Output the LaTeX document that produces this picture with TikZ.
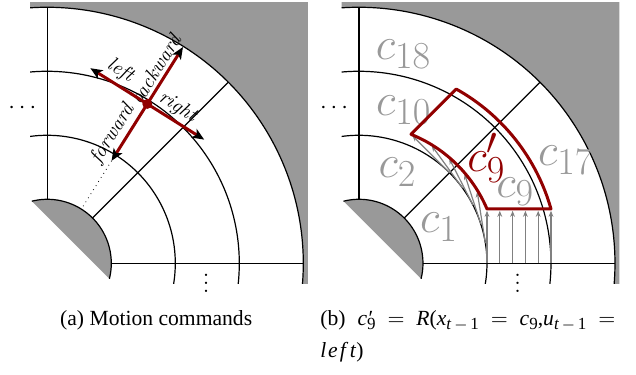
\documentclass[tikz,border=0pt]{standalone}
\usepackage{fontspec}
\newfontfamily\capfont{Liberation Serif}
\usetikzlibrary{arrows.meta}

\definecolor{cmdred}{RGB}{145,0,0}
\definecolor{cellgray}{gray}{0.6}

\newcommand\capsub[1]{\raisebox{-0.45ex}{\fontsize{8.5}{9}\selectfont#1}}
\newcommand\capss[1]{\rlap{\kern0.8pt′}\capsub{#1}}
\newcommand\capgap{\hspace{1.5pt plus 1fil}}

\tikzset{
  gridline/.style={line width=0.6pt},
  blocked/.style={fill=cellgray},
  cmdarrow/.style={cmdred,line width=1.5pt,-{Stealth[length=6pt,width=5pt,inset=1.5pt,black]}},
  cmdlabel/.style={text=black,font=\itshape,sloped,above,inner sep=1.5pt},
  celllabel/.style={text=cellgray,font=\Huge,scale=0.92,transform shape},
  shifted/.style={gray,line width=0.6pt,-{Stealth[length=3pt,width=2.4pt]}},
  caption/.style={font=\capfont\fontsize{10.8}{13}\selectfont,anchor=base west,inner sep=0pt}
}

\begin{document}
\begin{tikzpicture}[x=32pt,y=32pt]
  \useasboundingbox (0,0) rectangle (9.9375,5.859);

  % ring grid, the same in both panels
  \foreach \cx/\p in {0.739/a,5.609/b} {
    \begin{scope}[shift={(\cx,1.745)}]
      \clip (-0.27,-0.31) rectangle (4.07,4.08);
      \fill[blocked,even odd rule] (-1,-1) rectangle (5,5) (0,0) circle (4);
      \fill[blocked] (104:1) arc[start angle=104,end angle=-14,radius=1] -- cycle;
      \draw[gridline] (104:1) arc[start angle=104,end angle=-14,radius=1];
      \foreach \r in {2,3,4}
        \draw[gridline] (120:\r) arc[start angle=120,end angle=-30,radius=\r];
      \foreach \a in {0,45,90}
        \draw[gridline] (\a:1) -- (\a:4);
    \end{scope}
    \node[anchor=base,font=\large] (hdots-\p) at (\cx-0.39,4.08) {$\cdots$};
    \node[anchor=base,font=\large] (vdots-\p) at (\cx+2.48,1.285) {$\vdots$};
  }

  % (a) motion commands
  \begin{scope}[shift={(0.739,1.745)},rotate=57.9]
    \node[circle,fill=cmdred,inner sep=0pt,minimum size=5pt] (robot) at (2.94,0) {};
    \coordinate (fwd) at (1.89,0);
    \coordinate (bwd) at (3.99,0);
    \coordinate (lft) at (2.94,1.05);
    \coordinate (rgt) at (2.94,-1.05);
    \coordinate (hub) at (1,0);
  \end{scope}
  \draw[dotted] (fwd) -- (hub);
  \draw[cmdarrow] (robot.center) -- (fwd) node[cmdlabel,pos=0.65] {forward};
  \draw[cmdarrow] (robot.center) -- (bwd) node[cmdlabel,pos=0.5] {backward};
  \draw[cmdarrow] (robot.center) -- (lft) node[cmdlabel,pos=0.6] {left};
  \draw[cmdarrow] (robot.center) -- (rgt) node[cmdlabel,pos=0.41] {right};

  % (b) cell c9 moved left
  \begin{scope}[shift={(5.609,1.745)}]
    \node[celllabel] (c18) at (0.695,3.27) {$c_{18}$};
    \node[celllabel] (c10) at (0.70,2.39) {$c_{10}$};
    \node[celllabel] (c2) at (0.60,1.43) {$c_{2}$};
    \node[celllabel] (c1) at (1.25,0.56) {$c_{1}$};
    \node[celllabel] (c9) at (2.44,1.12) {$c_{9}$};
    \node[celllabel] (c17) at (3.23,1.61) {$c_{17}$};
    \node[celllabel,text=cmdred] (c9new) at (1.99,1.64) {$c'_{9}$};
    \foreach \i in {0,...,5}
      \draw[shifted] (2+\i*0.2,0) -- ++(90:0.82);
    \foreach \a in {9,18,27,36,45}
      \draw[shifted] (\a:2) -- ++(\a+90:0.82);
    \draw[cmdred,line width=1.5pt,line join=round]
      (2,0.85) -- (3,0.85) arc[start angle=15.82,end angle=60.82,radius=3.118]
      -- (68.03:2.173) arc[start angle=68.03,end angle=23.03,radius=2.173] -- cycle;
  \end{scope}

  \node[caption,anchor=base] (capa) at (2.44,0.78) {(a) Motion commands};
  \node[caption] (capb) at (5.0,0.78) {\makebox[147.5pt][s]{(b)\capgap\textit{c}\capss{9}\capgap$=$\capgap\textit{R}(\textit{x}\capsub{\textit{t}\,$-$\,1}\capgap$=$\capgap\textit{c}\capsub{9},\textit{u}\capsub{\textit{t}\,$-$\,1}\capgap$=$}};
  \node[caption] (capb2) at (5.0,0.27) {\textit{l\kern.8pt e\kern1.2pt f\kern2pt t})};
\end{tikzpicture}
\end{document}
